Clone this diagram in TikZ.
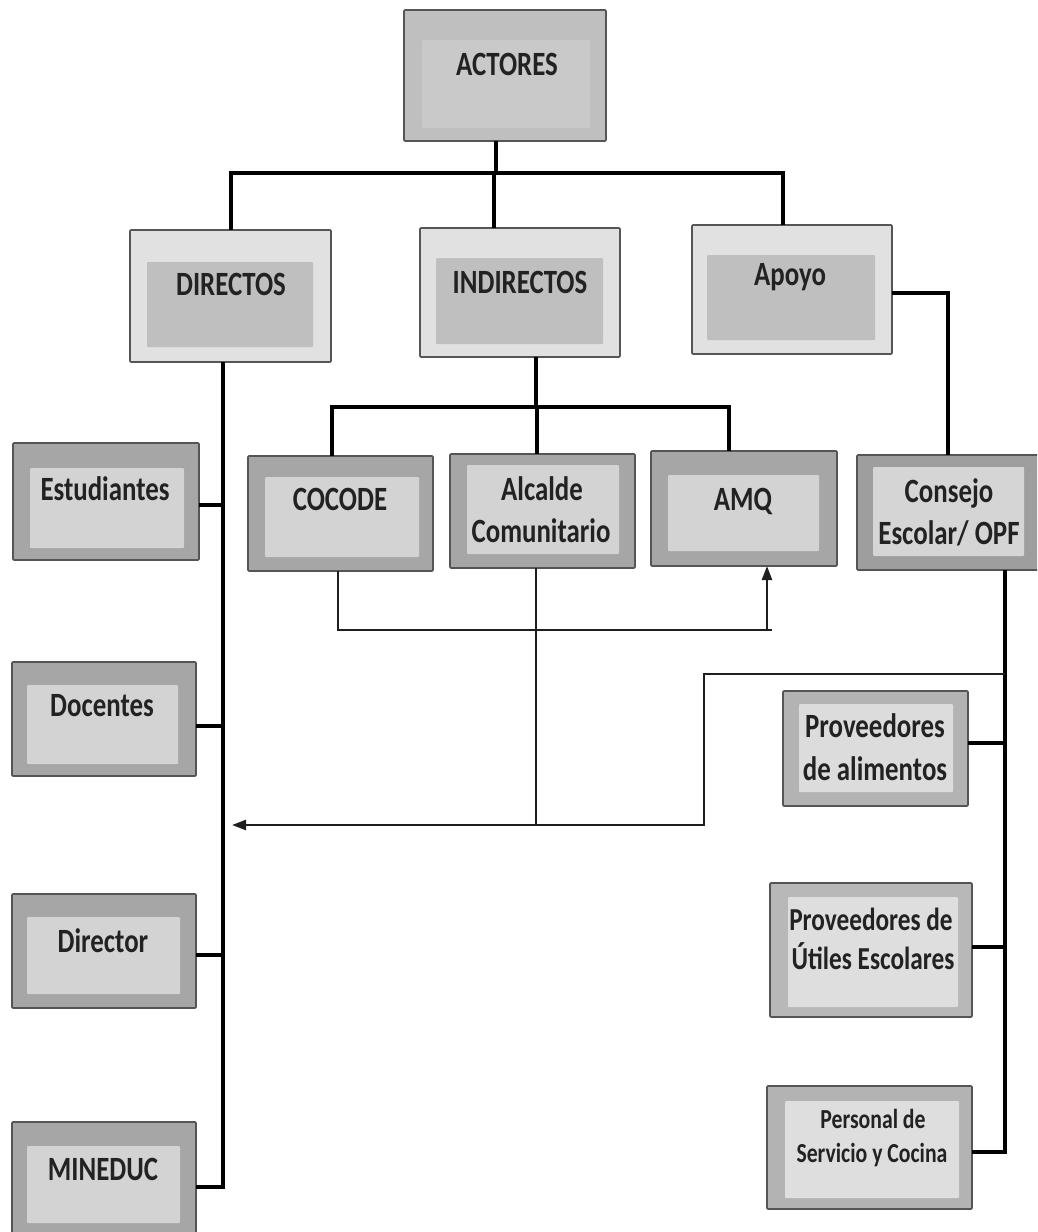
\documentclass[tikz,border=0pt]{standalone}
\usepackage{fontspec}
\setmainfont{Carlito}[FakeStretch=0.79]
\usetikzlibrary{arrows.meta}
\definecolor{bord}{HTML}{555555}
\definecolor{txt}{HTML}{222222}
\definecolor{gA}{HTML}{A6A6A6}
\definecolor{gB}{HTML}{D3D3D3}
\definecolor{gL}{HTML}{E1E1E1}
\definecolor{gM}{HTML}{BFBFBF}
\tikzset{
  ob/.style={draw=bord, line width=1.6pt, rounded corners=1pt, inner sep=0pt, outer sep=0pt},
  inset/.style n args={5}{path picture={\fill[#1] ([xshift=#2,yshift=-#3]path picture bounding box.north west) rectangle ([xshift=-#4,yshift=#5]path picture bounding box.south east);}},
  lbl/.style={anchor=base, inner sep=0pt, text=txt, font=\fontsize{34}{40}\selectfont\bfseries},
  lblm/.style={lbl, font=\fontsize{32}{38}\selectfont\bfseries},
  lbls/.style={lbl, font=\fontsize{27.5}{33}\selectfont\bfseries},
  thickline/.style={line width=4pt, black},
  midline/.style={line width=3.6pt, black},
  thinline/.style={line width=2.4pt, black!88},
  tip/.style={-{Triangle[length=14pt,width=10pt]}}
}
\begin{document}
\begin{tikzpicture}[x=1pt,y=-1pt]
\useasboundingbox (0,0) rectangle (1037,1232);
\clip (0,0) rectangle (1037,1232);
% top level
\node[ob, fill=gM, minimum width=202pt, minimum height=131pt, inset={gM!85!white}{18pt}{30pt}{16pt}{13pt}] (actores) at (505,75.5) {};
\node[ob, fill=gL, minimum width=201pt, minimum height=132pt, inset={gM}{17pt}{32pt}{18pt}{15pt}] (directos) at (230.5,296) {};
\node[ob, fill=gL, minimum width=200pt, minimum height=129pt, inset={gM}{16pt}{30pt}{17pt}{13pt}] (indirectos) at (520,292.5) {};
\node[ob, fill=gL, minimum width=200pt, minimum height=129pt, inset={gM}{15pt}{30pt}{17pt}{14pt}] (apoyo) at (792,289.5) {};
% left column
\node[ob, fill=gA, minimum width=186pt, minimum height=117pt, inset={gB}{17pt}{25pt}{15pt}{12pt}] (estudiantes) at (106,501.5) {};
\node[ob, fill=gA, minimum width=184pt, minimum height=114pt, inset={gB}{15pt}{23pt}{18pt}{12pt}] (docentes) at (104,719) {};
\node[ob, fill=gA, minimum width=184pt, minimum height=114pt, inset={gB}{15pt}{23pt}{16pt}{14pt}] (director) at (104,951) {};
\node[ob, fill=gA, minimum width=184pt, minimum height=118pt, inset={gB}{15pt}{24pt}{16pt}{17pt}] (mineduc) at (104,1181) {};
% middle row
\node[ob, fill=gA, minimum width=185pt, minimum height=115pt, inset={gB}{17pt}{21pt}{14pt}{14pt}] (cocode) at (340.5,513.5) {};
\node[ob, fill=gA, minimum width=185pt, minimum height=114pt, inset={gB}{17pt}{11pt}{16pt}{14pt}] (alcalde) at (542.5,511) {};
\node[ob, fill=gA, minimum width=186pt, minimum height=115pt, inset={gB}{17pt}{24pt}{18pt}{15pt}] (amq) at (744,508.5) {};
\node[ob, fill=gA!95!black, minimum width=188pt, minimum height=115pt, inset={gB!95!white}{16pt}{12pt}{21pt}{14pt}] (consejo) at (951,512.5) {};
% right column
\node[ob, fill=gA!85!white, minimum width=185pt, minimum height=115pt, inset={gB!80!white}{16pt}{13pt}{15pt}{14pt}] (alimentos) at (875.5,748.5) {};
\node[ob, fill=gA!80!white, minimum width=202pt, minimum height=134pt, inset={gB!75!white}{18pt}{14pt}{14pt}{10pt}] (utiles) at (871,950) {};
\node[ob, fill=gA!85!white, minimum width=205pt, minimum height=123pt, inset={gB!75!white}{18pt}{15pt}{13pt}{11pt}] (personal) at (869.5,1147.5) {};
% labels
\node[lbl] (tActores) at (507,75) {ACTORES};
\node[lbl] (tDirectos) at (231,295) {DIRECTOS};
\node[lbl] (tIndirectos) at (520,293) {INDIRECTOS};
\node[lbl] (tApoyo) at (790,285) {Apoyo};
\node[lbl] (tEst) at (105,500) {Estudiantes};
\node[lbl] (tDoc) at (102,716) {Docentes};
\node[lbl] (tDir) at (103,952) {Director};
\node[lbl] (tMin) at (103,1180) {MINEDUC};
\node[lbl] (tCoc) at (340,510) {COCODE};
\node[lbl] (tAlc1) at (542,500) {Alcalde};
\node[lbl] (tAlc2) at (541,542) {Comunitario};
\node[lbl] (tAmq) at (743,510) {AMQ};
\node[lbl] (tCon1) at (949,502) {Consejo};
\node[lbl] (tCon2) at (949,544) {Escolar/ OPF};
\node[lbl] (tAli1) at (875,737) {Proveedores};
\node[lbl] (tAli2) at (875,780) {de alimentos};
\node[lblm] (tUti1) at (871,930) {Proveedores de};
\node[lblm] (tUti2) at (873,969) {Útiles Escolares};
\node[lbls] (tPer1) at (873,1128) {Personal de};
\node[lbls] (tPer2) at (872,1162) {Servicio y Cocina};
% top tree
\draw[thickline] ([xshift=-9pt]actores.south) -- ([xshift=-9pt]actores.south |- 0,173);
\draw[thickline] (directos.north) -- (directos.north |- 0,173) -- ([xshift=-9pt]apoyo.north |- 0,173) -- ([xshift=-9pt]apoyo.north);
\draw[thickline] ([xshift=-26pt]indirectos.north) -- ([xshift=-26pt]indirectos.north |- 0,173);
% indirectos tree
\draw[thickline] ([xshift=16pt]indirectos.south) -- ([xshift=16pt]indirectos.south |- 0,407);
\draw[thickline] ([xshift=-8.5pt]cocode.north) -- ([xshift=-8.5pt]cocode.north |- 0,407) -- ([xshift=-15pt]amq.north |- 0,407) -- ([xshift=-15pt]amq.north);
\draw[thickline] ([xshift=-6pt]alcalde.north) -- ([xshift=-6pt]alcalde.north |- 0,407);
% apoyo to consejo
\draw[thickline] ([yshift=-3.5pt]apoyo.east) -- ([yshift=-3.5pt]apoyo.east -| 948,0) -- ([xshift=-3pt]consejo.north);
% directos trunk
\coordinate (trD) at ([xshift=-7.5pt]directos.south);
\draw[midline] (trD) -- (trD |- 0,1187) -- ([yshift=-6pt]mineduc.east);
\draw[midline] ([yshift=-3.5pt]estudiantes.east) -- ([yshift=-3.5pt]estudiantes.east -| trD);
\draw[midline] ([yshift=-7pt]docentes.east) -- ([yshift=-7pt]docentes.east -| trD);
\draw[midline] ([yshift=-4pt]director.east) -- ([yshift=-4pt]director.east -| trD);
% consejo trunk
\coordinate (trC) at ([xshift=54pt]consejo.south);
\draw[midline] (trC) -- (trC |- 0,1152) -- ([yshift=-4.5pt]personal.east);
\draw[midline] ([yshift=5.5pt]alimentos.east) -- ([yshift=5.5pt]alimentos.east -| trC);
\draw[midline] ([yshift=3pt]utiles.east) -- ([yshift=3pt]utiles.east -| trC);
% thin connectors
\draw[thinline, tip] ([xshift=-2.5pt]cocode.south) -- ([xshift=-2.5pt]cocode.south |- 0,630) -- ([xshift=23pt]amq.south |- 0,630) -- ([xshift=23pt]amq.south);
\draw[thinline] ([xshift=23pt]amq.south |- 0,630) -- ++(5,0);
\draw[thinline] ([xshift=-6.5pt]alcalde.south) -- ([xshift=-6.5pt]alcalde.south |- 0,825);
\draw[thinline, tip] (trC |- 0,674) -- (704,674) -- (704,825) -- ([xshift=9pt]trD |- 0,825);
\end{tikzpicture}
\end{document}
